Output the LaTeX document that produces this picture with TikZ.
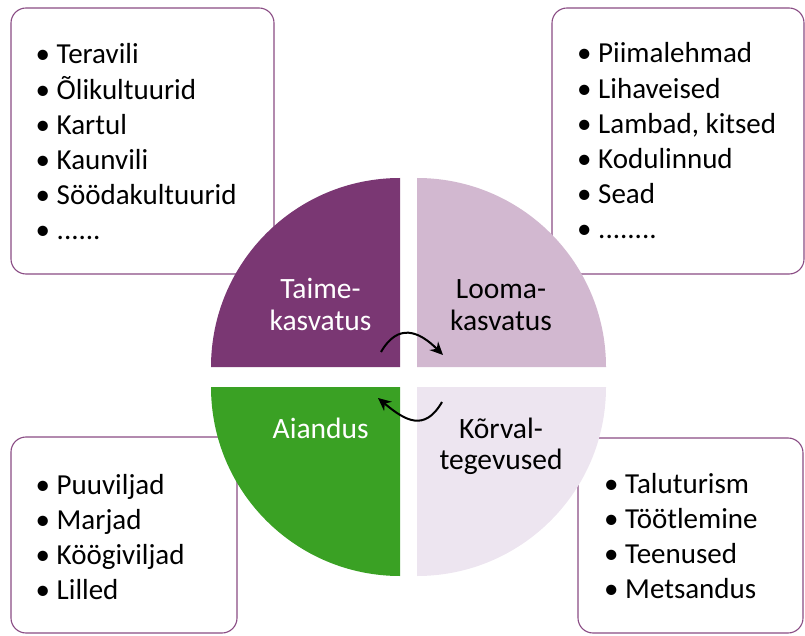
\documentclass[tikz,border=0pt]{standalone}
\usepackage{fontspec}
\setmainfont{Carlito}
\usetikzlibrary{arrows.meta}
\definecolor{plum}{HTML}{7A3773}
\definecolor{lilac}{HTML}{D2B8D0}
\definecolor{lavender}{HTML}{EDE5F0}
\definecolor{leaf}{HTML}{3AA124}
\definecolor{boxline}{HTML}{8A4C84}
\newcommand\itm[1]{\makebox[21pt][l]{•}#1}
\begin{document}
\begin{tikzpicture}[x=1pt,y=1pt,
  listbox/.style={draw=boxline, line width=1.1pt, rounded corners=15pt, fill=white},
  listtext/.style={anchor=base west, inner sep=0pt, font=\fontsize{29}{35.2}\selectfont},
  qlabel/.style={anchor=base, inner sep=0pt, font=\fontsize{29.5}{31.5}\selectfont},
  cyc/.style={line width=2pt, looseness=1.4, -{Stealth[length=13pt,width=12pt]}}]
\useasboundingbox (0,0) rectangle (805,635);
% list boxes
\draw[listbox] (11,361) rectangle (274,627);
\draw[listbox] (552,361) rectangle (804,627);
\draw[listbox] (11,2) rectangle (237,198);
\draw[listbox] (578,2) rectangle (803,197);
% quadrants
\fill[plum] (400,268) -- ++(-189,0) arc[start angle=180,end angle=90,radius=189] -- cycle;
\fill[lilac] (417,268) -- ++(0,189) arc[start angle=90,end angle=0,radius=189] -- cycle;
\fill[leaf] (400,248) -- ++(-189,0) arc[start angle=180,end angle=270,radius=189] -- cycle;
\fill[lavender] (417,248) -- ++(189,0) arc[start angle=0,end angle=-90,radius=189] -- cycle;
% lists
\node[listtext] (plantlist) at (35.5,571) {\begin{tabular}[t]{@{}l@{}}\itm{Teravili}\\ \itm{Õlikultuurid}\\ \itm{Kartul}\\ \itm{Kaunvili}\\ \itm{Söödakultuurid}\\ \itm{......}\end{tabular}};
\node[listtext] (animallist) at (577,572) {\begin{tabular}[t]{@{}l@{}}\itm{Piimalehmad}\\ \itm{Lihaveised}\\ \itm{Lambad, kitsed}\\ \itm{Kodulinnud}\\ \itm{Sead}\\ \itm{........}\end{tabular}};
\node[listtext] (gardenlist) at (35.5,141) {\begin{tabular}[t]{@{}l@{}}\itm{Puuviljad}\\ \itm{Marjad}\\ \itm{Köögiviljad}\\ \itm{Lilled}\end{tabular}};
\node[listtext] (sidelist) at (604,142) {\begin{tabular}[t]{@{}l@{}}\itm{Taluturism}\\ \itm{Töötlemine}\\ \itm{Teenused}\\ \itm{Metsandus}\end{tabular}};
% quadrant labels
\node[qlabel, text=white] (plant) at (320.5,336) {\begin{tabular}[t]{@{}c@{}}Taime-\\kasvatus\end{tabular}};
\node[qlabel, text=black] (animal) at (501,336) {\begin{tabular}[t]{@{}c@{}}Looma-\\kasvatus\end{tabular}};
\node[qlabel, text=white] (garden) at (320.7,197) {\begin{tabular}[t]{@{}c@{}}Aiandus\end{tabular}};
\node[qlabel, text=black] (side) at (501,197) {\begin{tabular}[t]{@{}c@{}}Kõrval-\\tegevused\end{tabular}};
% cycle arrows
\coordinate (t1) at (381,283);
\coordinate (t2) at (443,280);
\draw[cyc] (t1) to[out=60,in=135] (t2);
\coordinate (b1) at (442,233);
\coordinate (b2) at (378,237);
\draw[cyc] (b1) to[out=-120,in=-40] (b2);
\end{tikzpicture}
\end{document}
